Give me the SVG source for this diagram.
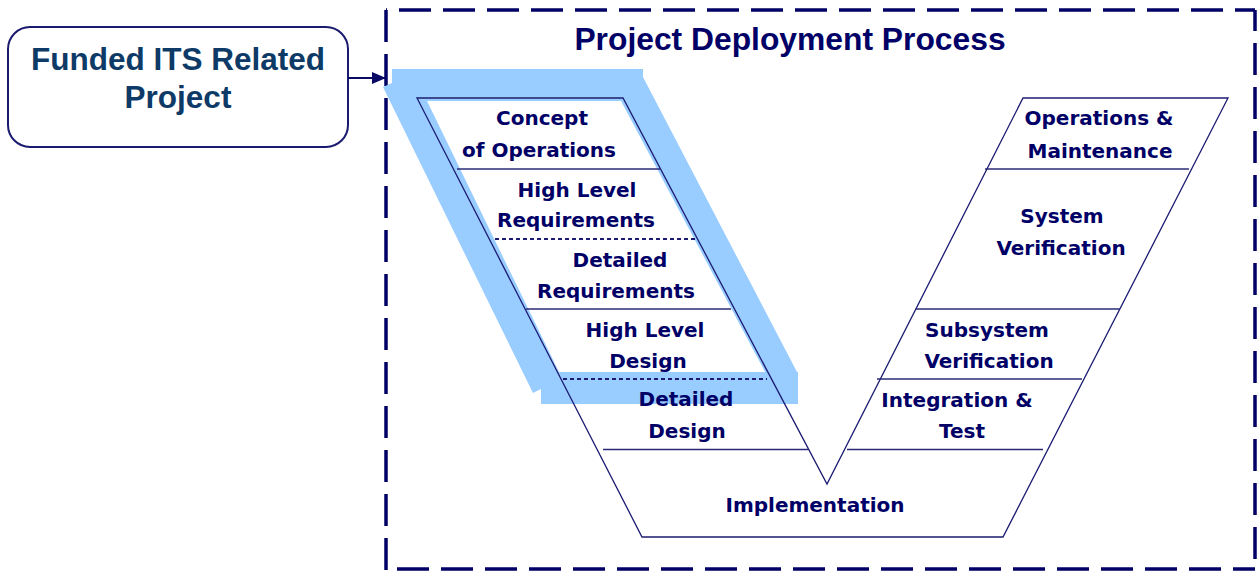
<svg xmlns="http://www.w3.org/2000/svg" width="1257" height="571" viewBox="0 0 1257 571">
  <defs>
    <marker id="arrowhead" markerWidth="14" markerHeight="12" refX="14" refY="6" orient="auto" markerUnits="userSpaceOnUse">
      <path d="M0,0 L14,6 L0,12 Z" fill="#0a0a66"/>
    </marker>
    <style>
      .border { stroke: #000066; stroke-width: 3.5; stroke-dasharray: 32 12; fill: none; }
      .vline { stroke: #1c1c72; stroke-width: 1.3; fill: none; }
      .div { stroke: #2a2a78; stroke-width: 1.5; fill: none; }
      .ddiv { stroke: #1c1c72; stroke-width: 2; stroke-dasharray: 4 3; fill: none; }
      .lbl { font-family: "DejaVu Sans", Verdana, sans-serif; font-weight: bold; font-size: 20px; fill: #000066; text-anchor: middle; }
      .title { font-family: "Liberation Sans", Arial, sans-serif; font-weight: bold; font-size: 31.8px; fill: #000066; text-anchor: middle; }
      .funded { font-family: "Liberation Sans", Arial, sans-serif; font-weight: bold; font-size: 31.5px; fill: #0d3a66; text-anchor: middle; }
    </style>
  </defs>

  <rect width="1257" height="571" fill="#ffffff"/>

  <!-- dashed container -->
  <g id="container">
    <line class="border" x1="386" y1="10" x2="1255" y2="10" stroke-dashoffset="31"/>
    <line class="border" x1="1255" y1="10" x2="1255" y2="571" stroke-dashoffset="11"/>
    <line class="border" x1="386" y1="10" x2="386" y2="571"/>
    <line class="border" x1="386" y1="569" x2="1255" y2="569" stroke-dashoffset="33"/>
  </g>

  <!-- highlight band -->
  <path id="highlight" fill="#99ccff" fill-rule="evenodd"
        d="M392,69 L643,69 L643,77 L797,372 L798,372 L798,404 L541,404 L541,389 L533,393 L383,87 L392,83 Z M427,101 L621,101 L765,372 L559,372 Z"/>

  <!-- V outline and dividers -->
  <g id="v-shape">
    <path class="vline" d="M417,98 L623,98 L827,484 L1023,98 L1228,98 L1003,537 L642,537 Z"/>
    <line class="div" x1="457" y1="169" x2="661" y2="169"/>
    <line class="ddiv" x1="495" y1="239" x2="697" y2="239"/>
    <line class="div" x1="526" y1="309" x2="731" y2="309"/>
    <line class="ddiv" x1="563" y1="379" x2="767" y2="379"/>
    <line class="div" x1="603" y1="449.5" x2="808" y2="449.5"/>
    <line class="div" x1="847" y1="449.5" x2="1043" y2="449.5"/>
    <line class="div" x1="877" y1="379" x2="1082" y2="379"/>
    <line class="div" x1="916" y1="309" x2="1120" y2="309"/>
    <line class="div" x1="985" y1="169" x2="1189" y2="169"/>
  </g>

  <g id="funded-project">
    <rect x="8" y="27" width="340" height="120" rx="22" ry="22" fill="#ffffff" stroke="#1a1a6e" stroke-width="2"/>
    <text class="funded" x="178" y="70">Funded ITS Related</text>
    <text class="funded" x="178" y="108">Project</text>
  </g>

  <g id="title">
    <text class="title" x="790" y="50">Project Deployment Process</text>
  </g>

  <g id="concept-of-operations">
    <text class="lbl" x="542" y="125">Concept</text>
    <text class="lbl" x="539" y="157">of Operations</text>
  </g>
  <g id="high-level-requirements">
    <text class="lbl" x="577" y="197">High Level</text>
    <text class="lbl" x="576" y="227">Requirements</text>
  </g>
  <g id="detailed-requirements">
    <text class="lbl" x="620" y="267">Detailed</text>
    <text class="lbl" x="616" y="298">Requirements</text>
  </g>
  <g id="high-level-design">
    <text class="lbl" x="645" y="337">High Level</text>
    <text class="lbl" x="648" y="368">Design</text>
  </g>
  <g id="detailed-design">
    <text class="lbl" x="686" y="406">Detailed</text>
    <text class="lbl" x="687" y="438">Design</text>
  </g>
  <g id="implementation">
    <text class="lbl" x="815" y="512">Implementation</text>
  </g>
  <g id="integration-test">
    <text class="lbl" x="957" y="407">Integration &amp;</text>
    <text class="lbl" x="962" y="438">Test</text>
  </g>
  <g id="subsystem-verification">
    <text class="lbl" x="987" y="337">Subsystem</text>
    <text class="lbl" x="989" y="368">Verification</text>
  </g>
  <g id="system-verification">
    <text class="lbl" x="1062" y="223">System</text>
    <text class="lbl" x="1061" y="255">Verification</text>
  </g>
  <g id="operations-maintenance">
    <text class="lbl" x="1099" y="125">Operations &amp;</text>
    <text class="lbl" x="1100" y="158">Maintenance</text>
  </g>

  <g id="connectors">
    <line x1="348" y1="78" x2="386" y2="78" stroke="#0a0a66" stroke-width="1.8" marker-end="url(#arrowhead)"/>
  </g>
</svg>
